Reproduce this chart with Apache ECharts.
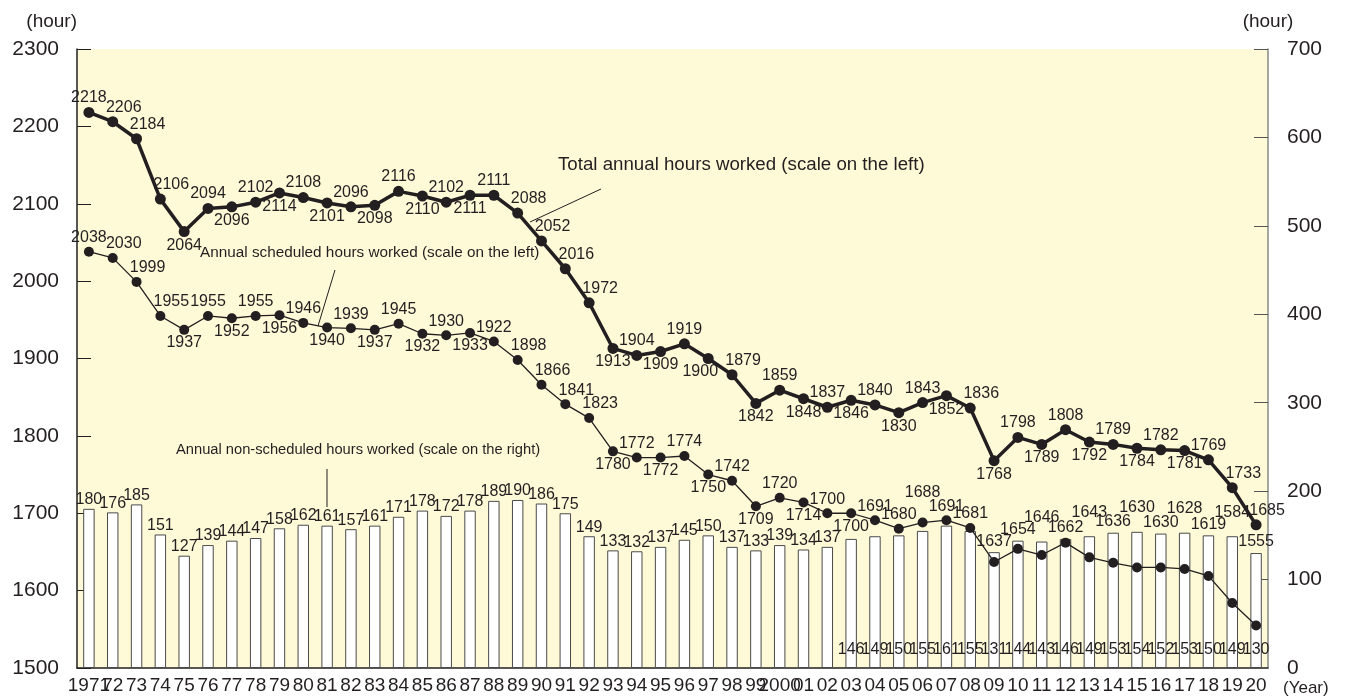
<!DOCTYPE html>
<html>
<head>
<meta charset="utf-8">
<script src="https://cdn.jsdelivr.net/npm/echarts@6/dist/echarts.min.js"></script>
<style>
  html, body { margin: 0; padding: 0; background: #fff; }
  #chart { width: 1349px; height: 697px; }
</style>
</head>
<body>
<div id="chart"></div>
<script>
const yearLabels = [
  "1971", "72", "73", "74", "75", "76", "77", "78", "79", "80",
  "81", "82", "83", "84", "85", "86", "87", "88", "89", "90",
  "91", "92", "93", "94", "95", "96", "97", "98", "99", "2000",
  "01", "02", "03", "04", "05", "06", "07", "08", "09", "10",
  "11", "12", "13", "14", "15", "16", "17", "18", "19", "20",
];

const totalHours = [
  2218, 2206, 2184, 2106, 2064, 2094, 2096, 2102, 2114, 2108,
  2101, 2096, 2098, 2116, 2110, 2102, 2111, 2111, 2088, 2052,
  2016, 1972, 1913, 1904, 1909, 1919, 1900, 1879, 1842, 1859,
  1848, 1837, 1846, 1840, 1830, 1843, 1852, 1836, 1768, 1798,
  1789, 1808, 1792, 1789, 1784, 1782, 1781, 1769, 1733, 1685,
];

const scheduledHours = [
  2038, 2030, 1999, 1955, 1937, 1955, 1952, 1955, 1956, 1946,
  1940, 1939, 1937, 1945, 1932, 1930, 1933, 1922, 1898, 1866,
  1841, 1823, 1780, 1772, 1772, 1774, 1750, 1742, 1709, 1720,
  1714, 1700, 1700, 1691, 1680, 1688, 1691, 1681, 1637, 1654,
  1646, 1662, 1643, 1636, 1630, 1630, 1628, 1619, 1584, 1555,
];

const nonScheduledHours = [
  180, 176, 185, 151, 127, 139, 144, 147, 158, 162,
  161, 157, 161, 171, 178, 172, 178, 189, 190, 186,
  175, 149, 133, 132, 137, 145, 150, 137, 133, 139,
  134, 137, 146, 149, 150, 155, 161, 155, 131, 144,
  143, 146, 149, 153, 154, 152, 153, 150, 149, 130,
];

// where each value label sits relative to its point
const totalLabelPos = [
  "t", "tr", "tr", "tr", "b", "t", "b", "t", "b", "t",
  "b", "t", "b", "t", "b", "t", "b", "t", "tr", "tr",
  "tr", "tr", "b", "t", "b", "t", "bl", "tr", "b", "t",
  "b", "t", "b", "t", "b", "t", "b", "tr", "b", "t",
  "b", "t", "b", "t", "b", "t", "b", "t", "tr", "tr",
];
const schedLabelPos = [
  "t", "tr", "tr", "tr", "b", "t", "b", "t", "b", "t",
  "b", "t", "b", "t", "b", "t", "b", "t", "tr", "tr",
  "tr", "tr", "b", "t", "b", "t", "b", "t", "b", "t",
  "b", "t", "b", "t", "t", "th", "t", "t", "bar", "bar",
  "barh", "bar", "barh", "bar", "barh", "bar", "barh", "bar", "barh", "bar",
];

const INK = "#231f20";
const FONT = "'Liberation Sans', Arial, Helvetica, sans-serif";
const NARROW = "'Liberation Sans Narrow', 'Arial Narrow', 'Liberation Sans', sans-serif";

const labelFor = (code) => {
  switch (code) {
    case "b":
      return { position: "bottom", distance: 0 };
    case "tr":
      return { position: "top", distance: 1, offset: [11, 0] };
    case "bl":
      return { position: "bottom", distance: 0, offset: [-8, 0] };
    case "th":
      return { position: "top", distance: 17 };
    default:
      return { position: "top", distance: 1 };
  }
};

const chart = echarts.init(document.getElementById("chart"));

const dataLabel = {
  show: true,
  color: INK,
  fontSize: 16,
  fontFamily: NARROW,
};

const option = {
  animation: false,
  backgroundColor: "#fff",
  grid: {
    left: 77,
    right: 81,
    top: 49,
    bottom: 29,
    show: true,
    backgroundColor: "#fef9d7",
    borderWidth: 0,
  },
  xAxis: {
    type: "category",
    data: yearLabels,
    name: "(Year)",
    nameLocation: "end",
    nameGap: 15,
    nameTextStyle: {
      color: INK,
      fontSize: 17,
      fontFamily: FONT,
      verticalAlign: "top",
      padding: [12, 0, 0, 0],
    },
    axisLine: { lineStyle: { color: INK, width: 1.5 } },
    axisTick: { show: false },
    axisLabel: {
      color: INK,
      fontSize: 19,
      fontFamily: FONT,
      margin: 8,
      interval: 0,
    },
  },
  yAxis: [
    {
      type: "value",
      min: 1500,
      max: 2300,
      interval: 100,
      name: "(hour)",
      nameLocation: "end",
      nameGap: 27,
      nameTextStyle: {
        color: INK,
        fontSize: 19,
        fontFamily: FONT,
        align: "right",
        verticalAlign: "middle",
      },
      axisLine: { show: true, lineStyle: { color: INK, width: 1.5 } },
      axisTick: { show: true, inside: true, length: 14, lineStyle: { color: INK } },
      splitLine: { show: false },
      axisLabel: {
        color: INK,
        fontSize: 21,
        fontFamily: FONT,
        margin: 18,
        formatter: (v) => String(v),
      },
    },
    {
      type: "value",
      min: 0,
      max: 700,
      interval: 100,
      position: "right",
      name: "(hour)",
      nameLocation: "end",
      nameGap: 27,
      nameTextStyle: {
        color: INK,
        fontSize: 19,
        fontFamily: FONT,
        align: "center",
        verticalAlign: "middle",
      },
      axisLine: { show: true, lineStyle: { color: "#8a8a8a", width: 1.5 } },
      axisTick: { show: true, inside: true, length: 14, lineStyle: { color: "#555" } },
      splitLine: { show: false },
      axisLabel: { color: INK, fontSize: 21, fontFamily: FONT, margin: 19 },
    },
  ],
  series: [
    {
      name: "Annual non-scheduled hours worked",
      type: "bar",
      yAxisIndex: 1,
      barWidth: "48%",
      itemStyle: { color: "#fff", borderColor: "#4a4a4a", borderWidth: 1 },
      data: nonScheduledHours.map((v, i) => ({
        value: v,
        label:
          i < 32
            ? { position: "top", distance: 1 }
            : { position: "insideBottom", distance: 10 },
      })),
      label: dataLabel,
      z: 2,
    },
    {
      name: "Annual scheduled hours worked",
      type: "line",
      yAxisIndex: 0,
      symbol: "circle",
      symbolSize: 10,
      lineStyle: { color: INK, width: 1.3 },
      itemStyle: { color: INK },
      label: dataLabel,
      data: scheduledHours.map((v, i) => ({ value: v, label: labelFor(schedLabelPos[i]) })),
      z: 3,
    },
    {
      name: "Total annual hours worked",
      type: "line",
      yAxisIndex: 0,
      symbol: "circle",
      symbolSize: 11,
      lineStyle: { color: INK, width: 3.5 },
      itemStyle: { color: INK },
      label: dataLabel,
      data: totalHours.map((v, i) => ({ value: v, label: labelFor(totalLabelPos[i]) })),
      z: 4,
    },
  ],
  graphic: [
    {
      type: "text",
      z: 10,
      style: {
        text: "Total annual hours worked (scale on the left)",
        x: 558, y: 165,
        fill: INK, fontSize: 18.7, fontFamily: FONT, verticalAlign: "middle",
      },
    },
    {
      type: "line",
      z: 10,
      shape: { x1: 601, y1: 189, x2: 530, y2: 222 },
      style: { stroke: INK, lineWidth: 1 },
    },
    {
      type: "text",
      z: 10,
      style: {
        text: "Annual scheduled hours worked (scale on the left)",
        x: 200, y: 253,
        fill: INK, fontSize: 15.3, fontFamily: FONT, verticalAlign: "middle",
      },
    },
    {
      type: "line",
      z: 10,
      shape: { x1: 335, y1: 270, x2: 318, y2: 326 },
      style: { stroke: INK, lineWidth: 1 },
    },
    {
      type: "text",
      z: 10,
      style: {
        text: "Annual non-scheduled hours worked (scale on the right)",
        x: 176, y: 450,
        fill: INK, fontSize: 14.7, fontFamily: FONT, verticalAlign: "middle",
      },
    },
    {
      type: "line",
      z: 10,
      shape: { x1: 327, y1: 469, x2: 327, y2: 507 },
      style: { stroke: INK, lineWidth: 1 },
    },
  ],
};

chart.setOption(option);

// labels of the later scheduled points sit just above the bars
const schedData = scheduledHours.map((v, i) => {
  const code = schedLabelPos[i];
  if (code === "bar" || code === "barh") {
    const yPt = chart.convertToPixel({ yAxisIndex: 0 }, v);
    const yBar = chart.convertToPixel({ yAxisIndex: 1 }, nonScheduledHours[i]);
    const dy = yBar - yPt - 11 - (code === "barh" ? 13 : 0);
    return { value: v, label: { position: "inside", offset: [0, dy] } };
  }
  return { value: v, label: labelFor(code) };
});

chart.setOption({ series: [{}, { data: schedData }, {}] });
</script>
</body>
</html>
